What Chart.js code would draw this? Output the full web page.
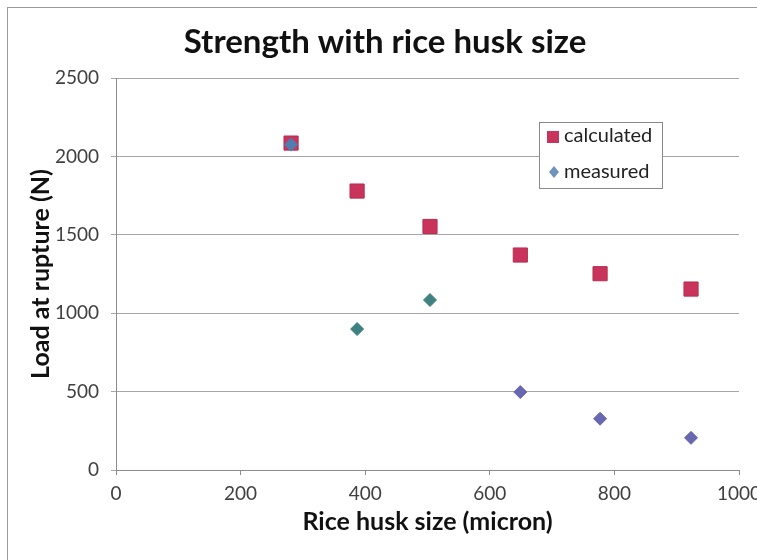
<!DOCTYPE html>
<html>
<head>
<meta charset="utf-8">
<script src="https://cdn.jsdelivr.net/npm/chart.js@4"></script>
<style>
  html, body { margin: 0; padding: 0; background: #fff; }
  #wrap { width: 757px; height: 560px; }
</style>
</head>
<body>
<div id="wrap"><canvas id="chart" width="757" height="560"></canvas></div>
<script>
// Values
const huskSize = [281, 387, 504, 649, 777, 923];
const calculatedLoad = [2085, 1779, 1553, 1371, 1252, 1154];
const measuredLoad = [2075, 899, 1084, 497, 327, 205];
const xTicks = [0, 200, 400, 600, 800, 1000];
const yTicks = [0, 500, 1000, 1500, 2000, 2500];

const redColor = '#C9345C';
// the picture shows the measured diamonds in slightly different tints
const measuredColors = ['#4F7DB0', '#3F8080', '#3F8080', '#6868B0', '#6868B0', '#6868B0'];
const fontName = 'Lato, "Open Sans", sans-serif';

function toPoints(xs, ys) {
    return xs.map((x, i) => ({ x: x, y: ys[i] }));
}

// white background plus the frame around the chart
const framePlugin = {
    id: 'frame',
    beforeDraw(chart) {
        const ctx = chart.ctx;
        ctx.save();
        ctx.fillStyle = '#fff';
        ctx.fillRect(0, 0, chart.width, chart.height);
        ctx.strokeStyle = '#9a9a9a';
        ctx.lineWidth = 1;
        ctx.strokeRect(7.5, 7.5, 800, 600);
        ctx.restore();
    }
};

// legend box drawn inside the plot area, like the original
const boxLegend = {
    id: 'boxLegend',
    afterDraw(chart) {
        const ctx = chart.ctx;
        const area = chart.chartArea;
        const left = area.right - 200;
        const top = area.top + 44;
        const w = 123, h = 66;
        ctx.save();
        ctx.fillStyle = '#fff';
        ctx.fillRect(left, top, w, h);
        ctx.strokeStyle = '#8a8a8a';
        ctx.lineWidth = 1;
        ctx.strokeRect(left + 0.5, top + 0.5, w, h);

        ctx.font = '20px ' + fontName;
        ctx.fillStyle = '#222';
        ctx.textBaseline = 'middle';
        ctx.textAlign = 'left';

        // calculated: square
        ctx.fillStyle = redColor;
        ctx.fillRect(left + 8, top + 9, 12, 12);
        ctx.fillStyle = '#222';
        ctx.fillText('calculated', left + 25, top + 14);

        // measured: diamond
        const cx = left + 15, cy = top + 50;
        ctx.fillStyle = '#6F93BC';
        ctx.beginPath();
        ctx.moveTo(cx, cy - 6);
        ctx.lineTo(cx + 5, cy);
        ctx.lineTo(cx, cy + 6);
        ctx.lineTo(cx - 5, cy);
        ctx.closePath();
        ctx.fill();
        ctx.fillStyle = '#222';
        ctx.fillText('measured', left + 25, top + 50);
        ctx.restore();
    }
};

const ctx = document.getElementById('chart').getContext('2d');
new Chart(ctx, {
    type: 'scatter',
    data: {
        datasets: [
            {
                label: 'calculated',
                data: toPoints(huskSize, calculatedLoad),
                pointStyle: 'rect',
                pointRadius: 10,
                pointHoverRadius: 10,
                backgroundColor: redColor,
                borderColor: '#B82C50',
                borderWidth: 1,
                order: 2
            },
            {
                label: 'measured',
                data: toPoints(huskSize, measuredLoad),
                pointStyle: 'rectRot',
                pointRadius: 6.5,
                pointHoverRadius: 6.5,
                backgroundColor: measuredColors,
                borderColor: measuredColors,
                borderWidth: 1,
                order: 1
            }
        ]
    },
    options: {
        responsive: false,
        animation: false,
        layout: {
            // left padding shifts the title centre right, as in the original
            padding: { left: 13, right: 0, top: 0, bottom: 0 }
        },
        plugins: {
            legend: { display: false },
            tooltip: { enabled: false },
            title: {
                display: true,
                text: 'Strength with rice husk size',
                color: '#111',
                font: { family: fontName, size: 33, weight: 'bold' },
                padding: { top: 22.2, bottom: 16.2 }
            }
        },
        scales: {
            x: {
                type: 'linear',
                min: 0,
                max: 1000,
                afterFit(scale) {
                    scale.height = 90;
                    scale.paddingLeft = 0;
                    scale.paddingRight = 18;
                },
                afterBuildTicks(scale) { scale.ticks = xTicks.map(v => ({ value: v })); },
                ticks: {
                    color: '#404040',
                    font: { family: fontName, size: 19 },
                    padding: 7,
                    callback: v => String(v)
                },
                grid: {
                    drawOnChartArea: false,
                    drawTicks: true,
                    tickLength: 5,
                    color: '#8c8c8c'
                },
                border: { color: '#8c8c8c', width: 1 },
                title: {
                    display: true,
                    text: 'Rice husk size (micron)',
                    color: '#111',
                    font: { family: fontName, size: 25, weight: 'bold' },
                    padding: { top: 0, bottom: 23 }
                }
            },
            y: {
                type: 'linear',
                min: 0,
                max: 2500,
                afterFit(scale) { scale.width = 103; },
                afterBuildTicks(scale) { scale.ticks = yTicks.map(v => ({ value: v })); },
                ticks: {
                    color: '#404040',
                    font: { family: fontName, size: 19 },
                    padding: 12,
                    callback: v => String(v)
                },
                grid: {
                    color: '#a6a6a6',
                    lineWidth: 1,
                    drawTicks: true,
                    tickLength: 5
                },
                border: { color: '#8c8c8c', width: 1 },
                title: {
                    display: true,
                    text: 'Load at rupture (N)',
                    color: '#111',
                    font: { family: fontName, size: 25, weight: 'bold' },
                    padding: { top: 13, bottom: 0 }
                }
            }
        }
    },
    plugins: [framePlugin, boxLegend]
});
</script>
</body>
</html>
